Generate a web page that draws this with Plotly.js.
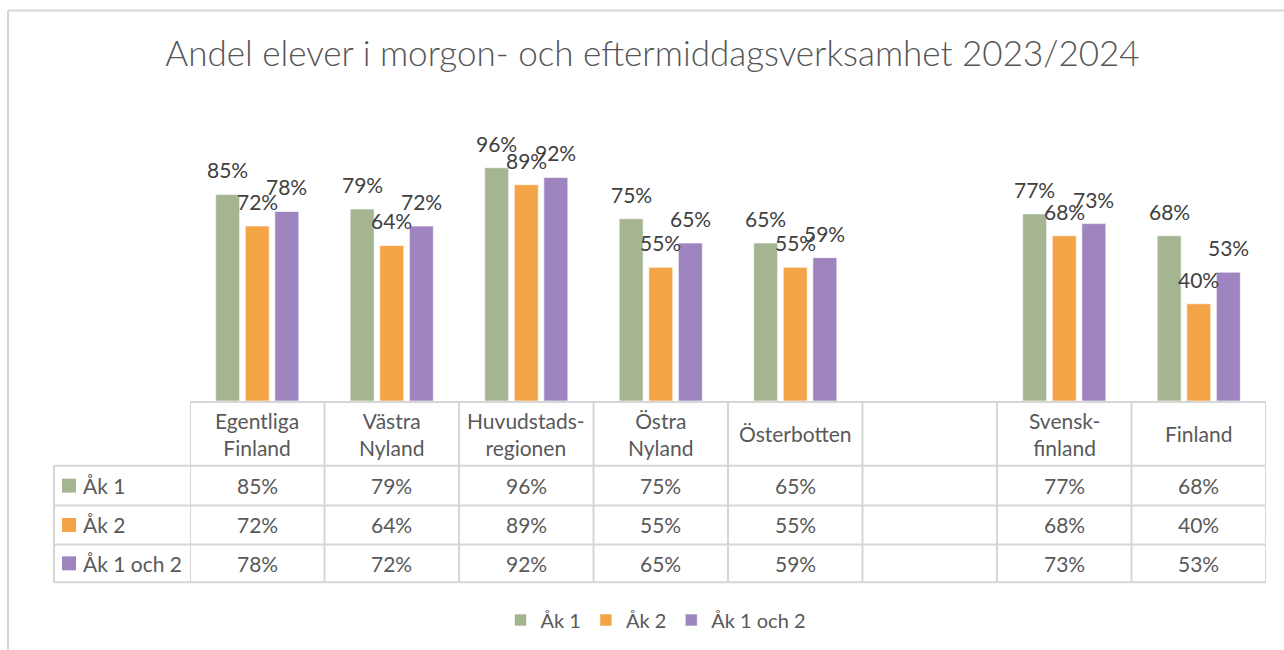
<!DOCTYPE html>
<html>
<head>
<meta charset="utf-8">
<script src="https://cdn.plot.ly/plotly-3.0.1.min.js"></script>
<style>html,body{margin:0;padding:0;background:#fff;}#chart{width:1284px;height:650px;}</style>
</head>
<body>
<div id="chart"></div>
<script>
// ---- data ----
const categories = ["Egentliga Finland", "Västra Nyland", "Huvudstadsregionen", "Östra Nyland", "Österbotten", " ", "Svensk-finland", "Finland"];
const headerLabels = ["Egentliga<br>Finland", "Västra<br>Nyland", "Huvudstads-<br>regionen", "Östra<br>Nyland", "Österbotten", "", "Svensk-<br>finland", "Finland"];
const seriesNames = ["Åk 1", "Åk 2", "Åk 1 och 2"];
const ak1 = [0.85, 0.79, 0.96, 0.75, 0.65, null, 0.77, 0.68];
const ak2 = [0.72, 0.64, 0.89, 0.55, 0.55, null, 0.68, 0.40];
const ak12 = [0.78, 0.72, 0.92, 0.65, 0.59, null, 0.73, 0.53];
const titleText = "Andel elever i morgon- och eftermiddagsverksamhet 2023/2024";

// ---- styling / layout ----
const colors = ["#A5B592", "#F3A447", "#9E85C0"];
const FONT = "Lato, 'Open Sans', sans-serif";
const W = 1284, H = 650;
const L = 190, R = 1266, TOP = 158, BOT = 402;
const px = x => (x - L) / (R - L);
const py = y => (BOT - y) / (BOT - TOP);
const series = [ak1, ak2, ak12];

const traces = series.map((vals, i) => ({
  type: "bar",
  name: seriesNames[i],
  x: categories,
  y: vals,
  marker: { color: colors[i], line: { color: "rgba(255,255,255,0.6)", width: 1 } },
  hoverinfo: "skip"
}));

const fmt = v => Math.round(v * 100) + "%";
const annotations = [];
const slot = (R - L) / categories.length * (1 - 0.34) / 3;

// data labels above bars
series.forEach((vals, si) => {
  vals.forEach((v, ci) => {
    if (v === null) return;
    annotations.push({
      x: categories[ci], y: v, xref: "x", yref: "y",
      text: fmt(v), showarrow: false,
      xshift: (si - 1) * slot, yshift: 10,
      yanchor: "bottom", xanchor: "center",
      font: { family: FONT, size: 21, color: "#404040" }
    });
  });
});

// table header
headerLabels.forEach((lab, ci) => {
  if (!lab) return;
  annotations.push({
    x: categories[ci], y: py(435), xref: "x", yref: "paper",
    text: lab, showarrow: false, yanchor: "middle", xanchor: "center",
    font: { family: FONT, size: 21, color: "#595959" }
  });
});

// table values
const rowCenters = [487, 526.5, 565];
series.forEach((vals, si) => {
  vals.forEach((v, ci) => {
    if (v === null) return;
    annotations.push({
      x: categories[ci], y: py(rowCenters[si]), xref: "x", yref: "paper",
      text: fmt(v), showarrow: false, yanchor: "middle", xanchor: "center",
      font: { family: FONT, size: 21, color: "#595959" }
    });
  });
  annotations.push({
    x: px(81), y: py(rowCenters[si]), xref: "paper", yref: "paper",
    text: seriesNames[si], showarrow: false, yanchor: "middle", xanchor: "left",
    font: { family: FONT, size: 21, color: "#595959" }
  });
});

// shapes: chart border, table grid, row-label squares
const lineC = "#D6D6D6";
const shapes = [];
shapes.push({ type: "line", xref: "paper", yref: "paper", x0: px(8), x1: px(1290), y0: py(10), y1: py(10), line: { color: lineC, width: 2 } });
shapes.push({ type: "line", xref: "paper", yref: "paper", x0: px(8), x1: px(8), y0: py(10), y1: py(660), line: { color: lineC, width: 2 } });
shapes.push({ type: "line", xref: "paper", yref: "paper", x0: 0, x1: 1, y0: py(403), y1: py(403), line: { color: lineC, width: 2 } });
[467, 507, 546, 584].forEach(y => {
  shapes.push({ type: "line", xref: "paper", yref: "paper", x0: px(54), x1: 1, y0: py(y), y1: py(y), line: { color: lineC, width: 2 } });
});
for (let i = 0; i <= categories.length; i++) {
  shapes.push({ type: "line", xref: "x", yref: "paper", x0: i - 0.5, x1: i - 0.5, y0: py(403), y1: py(584), line: { color: lineC, width: 2 } });
}
shapes.push({ type: "line", xref: "paper", yref: "paper", x0: px(54), x1: px(54), y0: py(467), y1: py(584), line: { color: lineC, width: 2 } });
rowCenters.forEach((yc, si) => {
  shapes.push({ type: "rect", xref: "paper", yref: "paper", x0: px(62), x1: px(76), y0: py(yc - 7), y1: py(yc + 7), fillcolor: colors[si], line: { width: 0 } });
});

const layout = {
  width: W, height: H,
  margin: { l: L, r: W - R, t: TOP, b: H - BOT },
  paper_bgcolor: "#fff", plot_bgcolor: "#fff",
  barmode: "group", bargap: 0.34, bargroupgap: 0.19,
  title: {
    text: titleText, xref: "container", yref: "container",
    x: 652.5 / W, y: 1 - 54 / H, xanchor: "center", yanchor: "middle",
    font: { family: FONT, size: 35, color: "#555555", weight: 300 }
  },
  xaxis: {
    type: "category", categoryorder: "array", categoryarray: categories,
    range: [-0.5, categories.length - 0.5],
    showticklabels: false, showgrid: false, zeroline: false, showline: false, ticks: ""
  },
  yaxis: {
    range: [0, 1], showticklabels: false, showgrid: false, zeroline: false, showline: false, ticks: ""
  },
  showlegend: true,
  legend: {
    orientation: "h", x: px(656), xanchor: "center", y: py(620), yanchor: "middle",
    font: { family: FONT, size: 20, color: "#595959" },
    itemclick: false, itemdoubleclick: false, traceorder: "normal"
  },
  annotations: annotations,
  shapes: shapes
};

Plotly.newPlot("chart", traces, layout, { staticPlot: true, displayModeBar: false });
</script>
</body>
</html>
